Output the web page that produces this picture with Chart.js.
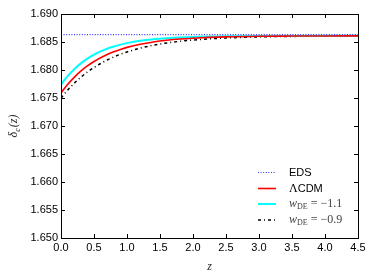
<!DOCTYPE html>
<html>
<head>
<meta charset="utf-8">
<script src="https://cdn.jsdelivr.net/npm/chart.js@4"></script>
<style>
html,body{margin:0;padding:0;background:#fff;}
#wrap{width:374px;height:280px;}
</style>
</head>
<body>
<div id="wrap"><canvas id="c" width="374" height="280"></canvas></div>
<script>
const zValues = [0,0.1,0.2,0.3,0.4,0.5,0.6,0.7,0.8,0.9,1.0,1.2,1.4,1.6,1.8,2.0,2.5,3.0,3.5,4.0,4.5];
const edsValues = [1.6863,1.6863,1.6863,1.6863,1.6863,1.6863,1.6863,1.6863,1.6863,1.6863,1.6863,1.6863,1.6863,1.6863,1.6863,1.6863,1.6863,1.6863,1.6863,1.6863,1.6863];
const lcdmValues = [1.67590,1.67741,1.67869,1.67979,1.68072,1.68152,1.68220,1.68277,1.68326,1.68368,1.68404,1.68460,1.68501,1.68531,1.68553,1.68568,1.68591,1.68602,1.68606,1.68608,1.68609];
const wm11Values = [1.67740,1.67890,1.68015,1.68118,1.68203,1.68273,1.68332,1.68380,1.68420,1.68453,1.68480,1.68521,1.68549,1.68568,1.68582,1.68591,1.68602,1.68607,1.68609,1.68610,1.68610];
const wm09Values = [1.67500,1.67640,1.67763,1.67870,1.67963,1.68045,1.68116,1.68178,1.68233,1.68281,1.68322,1.68390,1.68442,1.68482,1.68512,1.68535,1.68572,1.68591,1.68600,1.68605,1.68607];
const seriesLabels = ['EDS','\u039BCDM','w_DE = \u22121.1','w_DE = \u22120.9'];
const xTicks = [0,0.5,1.0,1.5,2.0,2.5,3.0,3.5,4.0,4.5];
const yTicks = [1.650,1.655,1.660,1.665,1.670,1.675,1.680,1.685,1.690];

function pts(v){ return zValues.map((z,i)=>({x:z,y:v[i]})); }

const styles = [
  {color:'#3333ff', width:1.2, dash:[1,1.6]},
  {color:'#ff0000', width:1.6, dash:[]},
  {color:'#00ffff', width:2, dash:[]},
  {color:'#000000', width:1.5, dash:[3,3,1,3]}
];
const allValues = [edsValues,lcdmValues,wm11Values,wm09Values];

const datasets = allValues.map((v,i)=>({
  label: seriesLabels[i],
  data: pts(v),
  borderColor: styles[i].color,
  backgroundColor: styles[i].color,
  borderWidth: styles[i].width,
  borderDash: styles[i].dash,
  pointRadius: 0,
  cubicInterpolationMode: 'monotone',
  fill: false
}));

const framePlugin = {
  id:'frame',
  afterDraw(chart){
    const ctx = chart.ctx, a = chart.chartArea;
    const xs = chart.scales.x, ys = chart.scales.y;
    ctx.save();
    ctx.strokeStyle = '#000';
    ctx.lineWidth = 1;
    ctx.strokeRect(Math.round(a.left)+0.5, Math.round(a.top)+0.5, Math.round(a.right-a.left), Math.round(a.bottom-a.top));
    const L = 4;
    ctx.beginPath();
    xTicks.forEach(t=>{
      const px = Math.round(xs.getPixelForValue(t))+0.5;
      ctx.moveTo(px, a.bottom); ctx.lineTo(px, a.bottom-L);
      ctx.moveTo(px, a.top); ctx.lineTo(px, a.top+L);
    });
    yTicks.forEach(t=>{
      const py = Math.round(ys.getPixelForValue(t))+0.5;
      ctx.moveTo(a.left, py); ctx.lineTo(a.left+L, py);
      ctx.moveTo(a.right, py); ctx.lineTo(a.right-L, py);
    });
    ctx.stroke();

    // axis titles
    ctx.fillStyle = '#222';
    ctx.textBaseline = 'alphabetic';
    ctx.font = 'italic 12px "Liberation Serif"';
    ctx.textAlign = 'center';
    ctx.fillText('z', (a.left+a.right)/2, 270);

    ctx.save();
    ctx.translate(17, (a.top+a.bottom)/2);
    ctx.rotate(-Math.PI/2);
    ctx.textAlign = 'left';
    const p1 = '\u03B4', p3 = '(z)';
    ctx.font = 'italic 12px "Liberation Serif"';
    const w1 = ctx.measureText(p1).width;
    ctx.font = 'italic 8px "Liberation Serif"';
    const w2 = ctx.measureText('c').width;
    ctx.font = 'italic 12px "Liberation Serif"';
    const w3 = ctx.measureText(p3).width;
    let x0 = -(w1+w2+w3+1)/2;
    ctx.fillText(p1, x0, 0);
    ctx.font = 'italic 8px "Liberation Serif"';
    ctx.fillText('c', x0+w1, 3);
    ctx.font = 'italic 12px "Liberation Serif"';
    ctx.fillText(p3, x0+w1+w2+1, 0);
    ctx.restore();

    // legend
    const rows = [172.5, 188.5, 204, 220];
    const lx0 = 258, lx1 = 276, tx = 289;
    chart.data.datasets.forEach((ds,i)=>{
      const y = rows[i];
      ctx.save();
      ctx.strokeStyle = ds.borderColor;
      ctx.lineWidth = ds.borderWidth;
      ctx.setLineDash(ds.borderDash);
      ctx.beginPath(); ctx.moveTo(lx0, y); ctx.lineTo(lx1, y); ctx.stroke();
      ctx.restore();
      ctx.fillStyle = '#000';
      ctx.textAlign = 'left';
      ctx.textBaseline = 'middle';
      const lab = ds.label;
      if (i === 0) {
        ctx.font = '11px "Liberation Sans"';
        ctx.fillText(lab, tx, y);
      } else if (i === 1) {
        ctx.font = '12px "Liberation Serif"';
        ctx.fillText(lab.charAt(0), tx, y);
        const w = ctx.measureText(lab.charAt(0)).width;
        ctx.font = '11px "Liberation Sans"';
        ctx.fillText(lab.slice(1), tx+w, y);
      } else {
        const parts = lab.split(' = ');
        const base = parts[0].split('_');
        ctx.fillStyle = '#444';
        ctx.font = 'italic 12px "Liberation Serif"';
        ctx.fillText(base[0], tx, y);
        let x = tx + ctx.measureText(base[0]).width;
        ctx.font = '8px "Liberation Serif"';
        ctx.fillText(base[1], x, y+3);
        x += ctx.measureText(base[1]).width + 3;
        ctx.font = '12px "Liberation Serif"';
        ctx.fillText('= ' + parts[1], x, y);
      }
    });
    ctx.restore();
  }
};

new Chart(document.getElementById('c'), {
  type:'line',
  data:{datasets},
  options:{
    responsive:false,
    animation:false,
    layout:{padding:{left:0,top:14,right:16,bottom:0}},
    plugins:{legend:{display:false},tooltip:{enabled:false}},
    scales:{
      x:{
        type:'linear', min:0, max:4.5,
        afterBuildTicks(s){ s.ticks = xTicks.map(v=>({value:v})); },
        afterFit(s){ s.height = 42; },
        grid:{display:false, drawTicks:false},
        border:{display:false},
        ticks:{padding:3, color:'#000', font:{family:'Liberation Sans', size:11}, maxRotation:0, autoSkip:false,
          callback:(v)=>Number(v).toFixed(1)}
      },
      y:{
        min:1.650, max:1.690,
        afterBuildTicks(s){ s.ticks = yTicks.map(v=>({value:v})); },
        afterFit(s){ s.width = 61; },
        grid:{display:false, drawTicks:false},
        border:{display:false},
        ticks:{padding:3, color:'#000', font:{family:'Liberation Sans', size:11}, autoSkip:false,
          callback:(v)=>Number(v).toFixed(3)}
      }
    }
  },
  plugins:[framePlugin]
});
</script>
</body>
</html>
